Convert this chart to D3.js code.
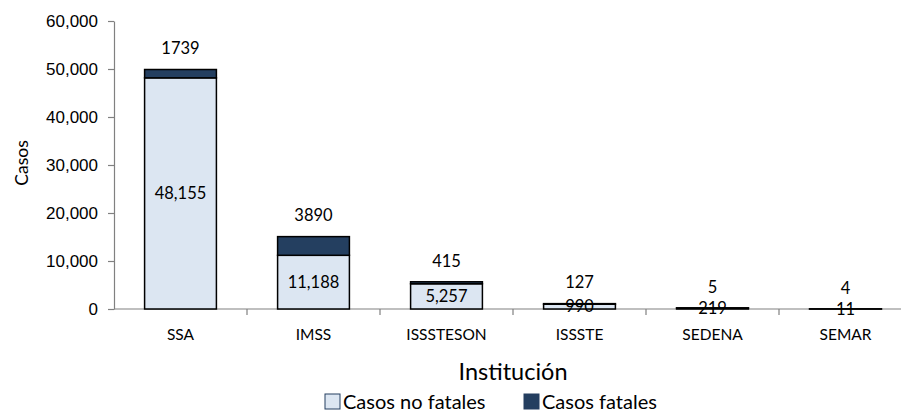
<!DOCTYPE html>
<html>
<head>
<meta charset="utf-8">
<script src="https://cdn.jsdelivr.net/npm/d3@7"></script>
<style>
  body { margin: 0; background: #fff; }
  svg { font-family: Lato, "Open Sans", sans-serif; }
</style>
</head>
<body>
<svg id="viz" width="901" height="414"></svg>
<script>
// chart data
var instituciones = ['SSA', 'IMSS', 'ISSSTESON', 'ISSSTE', 'SEDENA', 'SEMAR'];
var noFatales = [48155, 11188, 5257, 990, 219, 11];
var fatales = [1739, 3890, 415, 127, 5, 4];
var yTicks = [0, 10000, 20000, 30000, 40000, 50000, 60000];
var seriesNames = ['Casos no fatales', 'Casos fatales'];

var colors = ['#dce6f2', '#243f60'];
var margin = { left: 114, top: 21, bottom: 105 };
var width = 133 * 6;
var height = 288;

var svg = d3.select('#viz');
var g = svg.append('g').attr('transform', 'translate(' + margin.left + ',' + margin.top + ')');

var x = d3.scaleBand().domain(instituciones).range([0, width]).paddingInner(0.46).paddingOuter(0.23);
var y = d3.scaleLinear().domain([0, 60000]).range([height, 0]);

// y axis
var yAxis = g.append('g')
  .call(d3.axisLeft(y).tickValues(yTicks).tickFormat(d3.format(',')).tickSize(6).tickSizeOuter(0));
yAxis.select('.domain').attr('stroke', '#808080').attr('stroke-width', 1.2);
yAxis.selectAll('.tick line').attr('stroke', '#808080').attr('stroke-width', 1.2);
yAxis.selectAll('text').style('font-size', '17px').attr('fill', '#000').attr('x', -16);

// x axis: ticks sit at band boundaries
var xg = g.append('g').attr('transform', 'translate(0,' + height + ')');
xg.append('line').attr('x1', 0).attr('x2', width).attr('stroke', '#808080').attr('stroke-width', 1.2);
var step = x.step();
d3.range(1, instituciones.length + 1).forEach(function (i) {
  xg.append('line')
    .attr('x1', i * step).attr('x2', i * step)
    .attr('y1', 0).attr('y2', 6)
    .attr('stroke', '#808080').attr('stroke-width', 1.2);
});
xg.selectAll('text.cat')
  .data(instituciones)
  .join('text')
  .attr('class', 'cat')
  .attr('x', function (d) { return x(d) + x.bandwidth() / 2; })
  .attr('y', 26)
  .attr('dy', '0.35em')
  .attr('text-anchor', 'middle')
  .style('font-size', '15.5px')
  .text(function (d) { return d; });

// stacked bars
var rows = instituciones.map(function (d, i) {
  return { inst: d, nf: noFatales[i], f: fatales[i] };
});

g.selectAll('rect.nf')
  .data(rows)
  .join('rect')
  .attr('class', 'nf')
  .attr('x', function (d) { return x(d.inst); })
  .attr('width', x.bandwidth())
  .attr('y', function (d) { return y(d.nf); })
  .attr('height', function (d) { return y(0) - y(d.nf); })
  .attr('fill', colors[0])
  .attr('stroke', '#000')
  .attr('stroke-width', 1.5);

g.selectAll('rect.f')
  .data(rows)
  .join('rect')
  .attr('class', 'f')
  .attr('x', function (d) { return x(d.inst); })
  .attr('width', x.bandwidth())
  .attr('y', function (d) { return y(d.nf + d.f); })
  .attr('height', function (d) { return y(d.nf) - y(d.nf + d.f); })
  .attr('fill', colors[1])
  .attr('stroke', '#000')
  .attr('stroke-width', 1.5);

// value labels
g.selectAll('text.nfl')
  .data(rows)
  .join('text')
  .attr('class', 'nfl')
  .attr('x', function (d) { return x(d.inst) + x.bandwidth() / 2; })
  .attr('y', function (d) { return (y(0) + y(d.nf)) / 2; })
  .attr('dy', '0.35em')
  .attr('text-anchor', 'middle')
  .style('font-size', '16.5px')
  .text(function (d) { return d3.format(',')(d.nf); });

g.selectAll('text.fl')
  .data(rows)
  .join('text')
  .attr('class', 'fl')
  .attr('x', function (d) { return x(d.inst) + x.bandwidth() / 2; })
  .attr('y', function (d) { return y(d.nf + d.f) - 21; })
  .attr('dy', '0.35em')
  .attr('text-anchor', 'middle')
  .style('font-size', '16.5px')
  .text(function (d) { return d.f; });

// axis titles
svg.append('text')
  .attr('transform', 'translate(28,163) rotate(-90)')
  .attr('text-anchor', 'middle')
  .style('font-size', '17.5px')
  .text('Casos');

svg.append('text')
  .attr('x', 513)
  .attr('y', 380)
  .attr('text-anchor', 'middle')
  .style('font-size', '23.5px')
  .text('Institución');

// legend
var legendX = [325, 524];
seriesNames.forEach(function (name, i) {
  svg.append('rect')
    .attr('x', legendX[i])
    .attr('y', 394)
    .attr('width', 15)
    .attr('height', 15)
    .attr('fill', colors[i])
    .attr('stroke', '#243f60')
    .attr('stroke-width', 1);
  svg.append('text')
    .attr('x', legendX[i] + 18)
    .attr('y', 409)
    .style('font-size', '20px')
    .text(name);
});
</script>
</body>
</html>
